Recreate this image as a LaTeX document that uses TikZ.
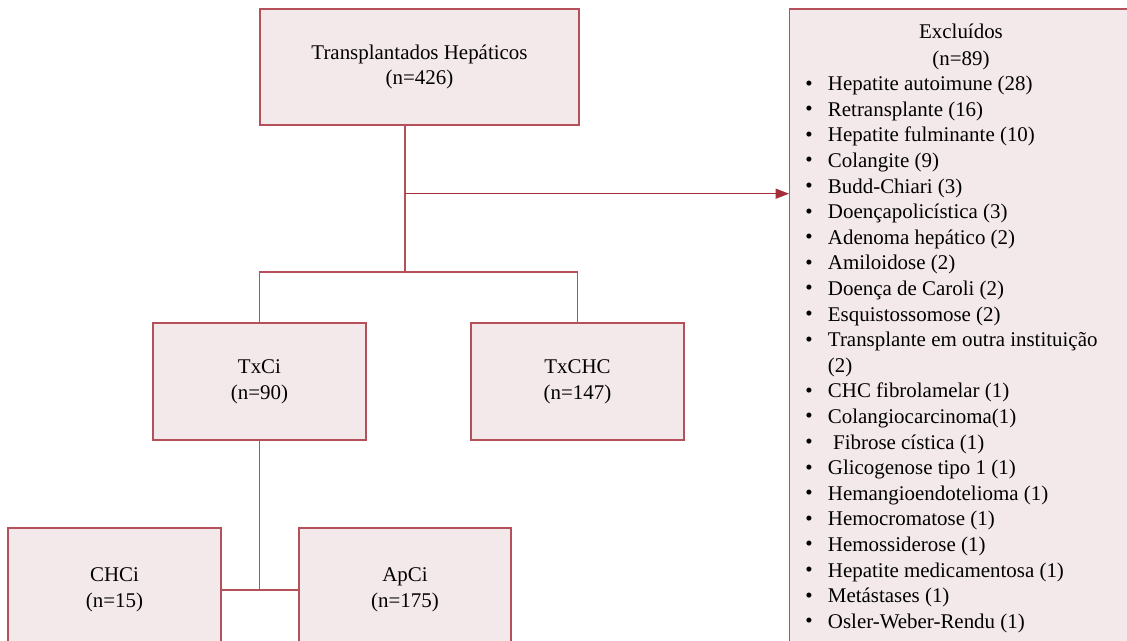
\documentclass[tikz,border=0pt]{standalone}
\usepackage{fontspec}
\setmainfont{Liberation Serif}
\usetikzlibrary{arrows.meta}
\definecolor{boxline}{HTML}{B3505A}
\definecolor{boxfill}{HTML}{F3E8EA}
\definecolor{arrowred}{HTML}{A3303B}
\newcommand{\txt}{\fontsize{15.7}{19.2}\selectfont}
\newcommand{\itm}[1]{\makebox[17pt][l]{\raisebox{0.5pt}{\textbullet}}#1}
\tikzset{
  box/.style={draw=boxline, fill=boxfill, line width=1pt, align=center, font=\txt},
  link/.style={draw=boxline, line width=0.9pt},
  excl arrow/.style={draw=arrowred, line width=0.9pt, -{Triangle[length=10pt,width=7.5pt]}}
}
\begin{document}
\begin{tikzpicture}[x=0.75pt,y=-0.75pt]
  \useasboundingbox (0,0) rectangle (1127,641);
  \clip (0,0) rectangle (1127,641);
  \node[box, minimum width=239.25pt, minimum height=87pt] (hep) at (419.5,67) {Transplantados Hepáticos\\(n=426)};
  \node[box, minimum width=159.75pt, minimum height=87.75pt] (txci) at (259.5,381.5) {TxCi\\(n=90)};
  \node[box, minimum width=159.75pt, minimum height=87.75pt] (txchc) at (577.5,381.5) {TxCHC\\(n=147)};
  \node[box, minimum width=159.75pt, minimum height=93pt] (chci) at (114.5,590) {CHCi\\(n=15)};
  \node[box, minimum width=159pt, minimum height=93pt] (apci) at (405,590) {ApCi\\(n=175)};
  \node[box, anchor=north west, minimum width=258pt, minimum height=525pt] (excl) at (789,8.5) {};
  \node[font=\fontsize{15.7}{20.2}\selectfont, align=center] (excltitle) at (961,46.5) {Excluídos\\(n=89)};
  \node[font=\txt, align=left, anchor=north west, inner sep=0pt] (excllist) at (805,76) {%
    \itm{Hepatite autoimune (28)}\\
    \itm{Retransplante (16)}\\
    \itm{Hepatite fulminante (10)}\\
    \itm{Colangite (9)}\\
    \itm{Budd-Chiari (3)}\\
    \itm{Doençapolicística (3)}\\
    \itm{Adenoma hepático (2)}\\
    \itm{Amiloidose (2)}\\
    \itm{Doença de Caroli (2)}\\
    \itm{Esquistossomose (2)}\\
    \itm{Transplante em outra instituição}\\
    \hspace*{17pt}(2)\\
    \itm{CHC fibrolamelar (1)}\\
    \itm{Colangiocarcinoma(1)}\\
    \itm{\ Fibrose cística (1)}\\
    \itm{Glicogenose tipo 1 (1)}\\
    \itm{Hemangioendotelioma (1)}\\
    \itm{Hemocromatose (1)}\\
    \itm{Hemossiderose (1)}\\
    \itm{Hepatite medicamentosa (1)}\\
    \itm{Metástases (1)}\\
    \itm{Osler-Weber-Rendu (1)}};
  \coordinate (split) at (405,193.7);
  \coordinate (fork) at (405,272);
  \draw[link] (hep.south -| fork) -- (fork);
  \draw[link] (txci.north) |- (fork) -| (txchc.north);
  \draw[excl arrow] (split) -- (excl.west |- split);
  \draw[link] (txci.south) -- (txci.south |- chci.east);
  \draw[link] (chci.east) -- (apci.west);
\end{tikzpicture}
\end{document}
